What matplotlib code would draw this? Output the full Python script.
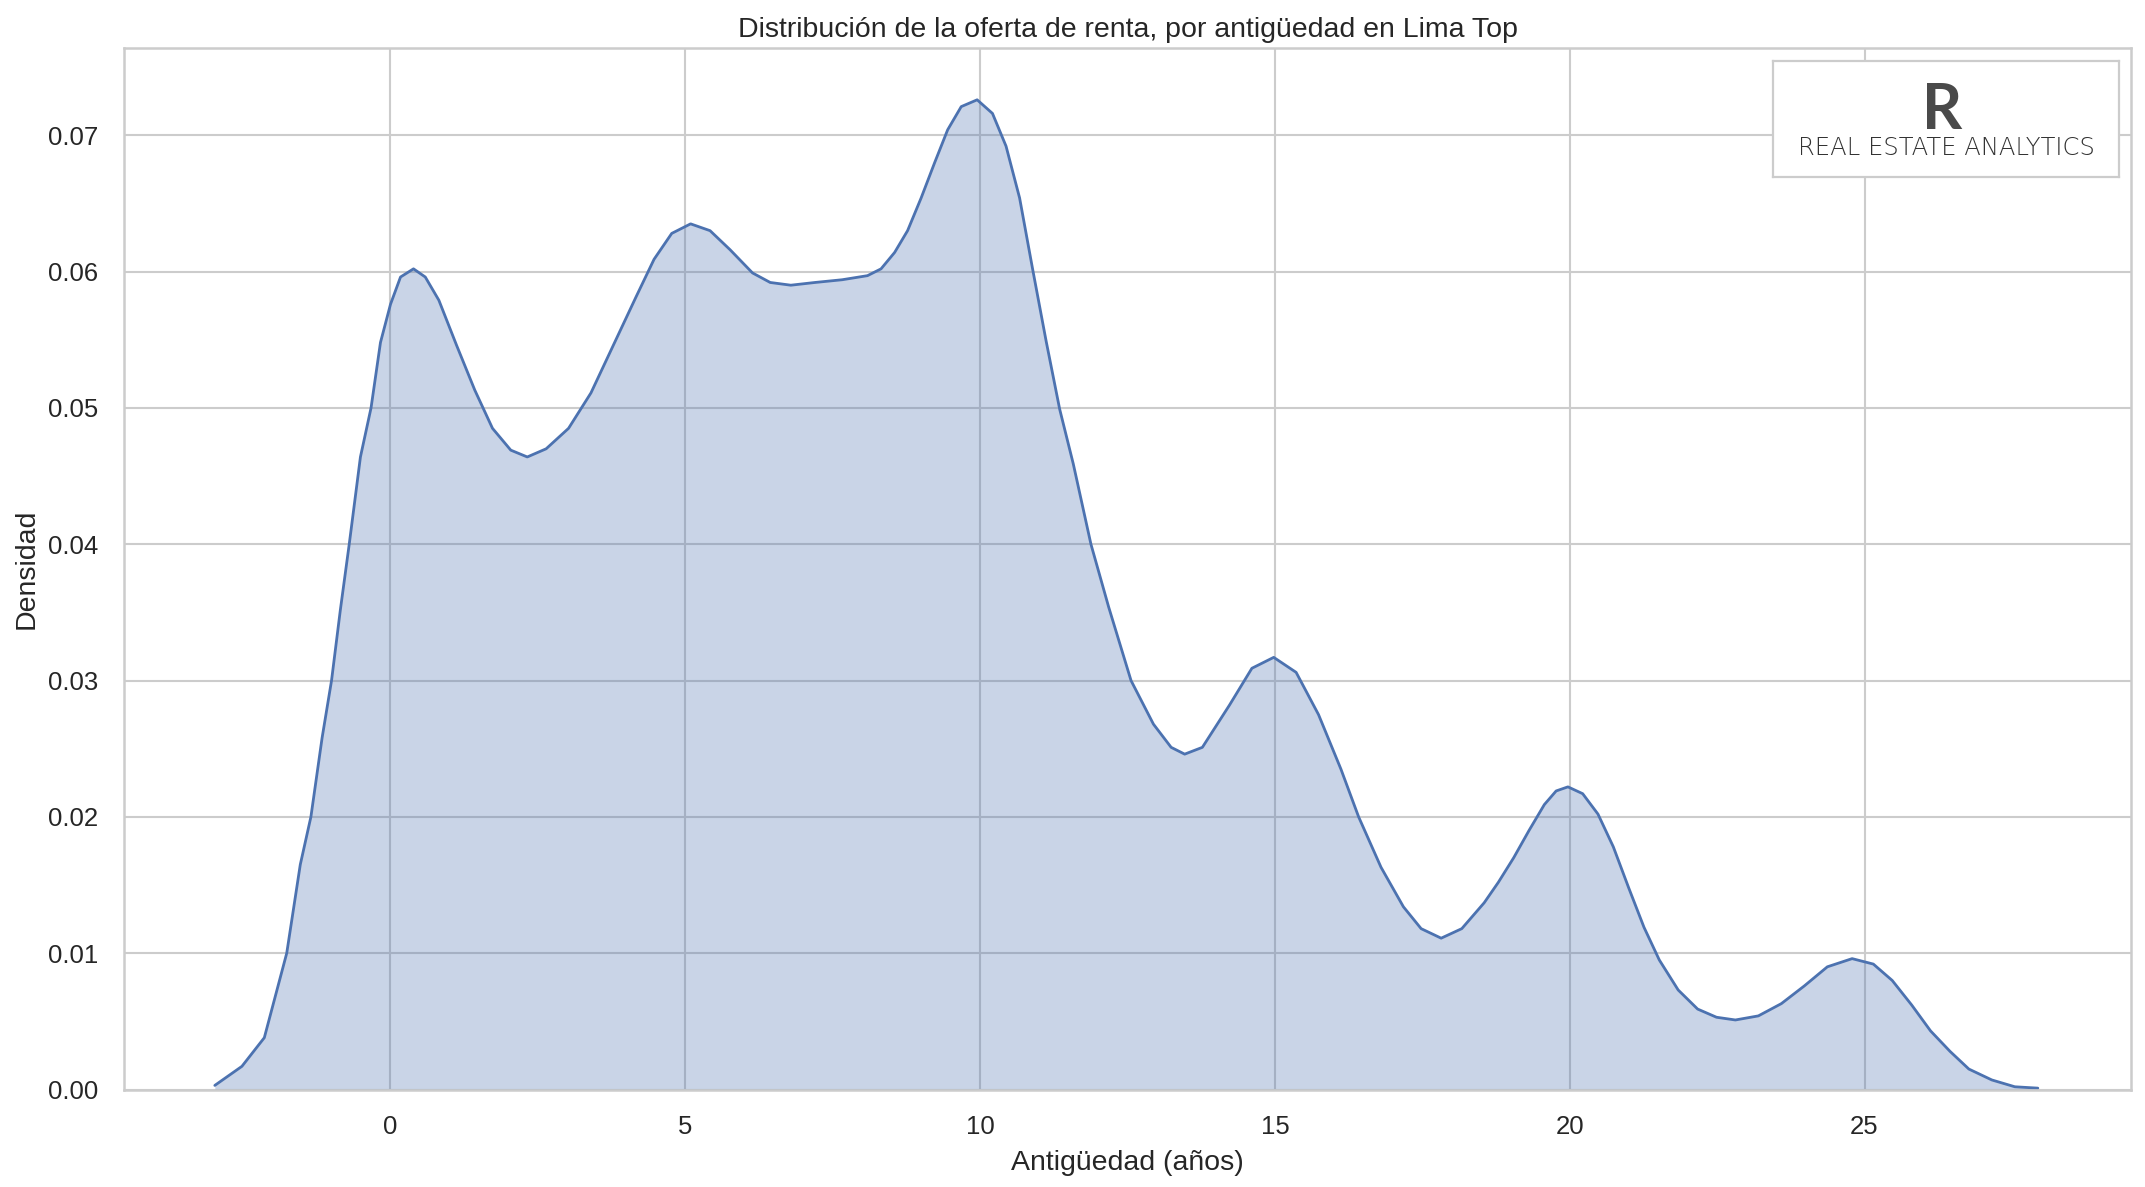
import matplotlib
matplotlib.use("Agg")
import matplotlib.pyplot as plt
import seaborn as sns

# Density curve (x = antigüedad en años, y = densidad)
antiguedad = [-2.98, -2.52, -2.14, -1.76, -1.53, -1.35, -1.16, -1.00, -0.85, -0.70,
              -0.51, -0.33, -0.17, 0.00, 0.17, 0.39, 0.59, 0.82, 1.12, 1.43,
              1.73, 2.04, 2.32, 2.64, 3.02, 3.40, 3.78, 4.16, 4.47, 4.77,
              5.09, 5.42, 5.76, 6.14, 6.44, 6.79, 7.20, 7.66,
              8.09, 8.32, 8.55, 8.77, 9.00, 9.23, 9.45, 9.68, 9.95, 10.21,
              10.44, 10.67, 10.89, 11.12, 11.35, 11.58, 11.88, 12.18, 12.56, 12.94,
              13.24, 13.47, 13.77, 14.23, 14.61, 14.98, 15.36, 15.74, 16.12, 16.42,
              16.80, 17.18, 17.48, 17.82, 18.17, 18.55,
              18.79, 19.05, 19.31, 19.57, 19.77, 19.97, 20.22, 20.48, 20.74, 21.00,
              21.26, 21.52, 21.84, 22.17, 22.49, 22.81, 23.20, 23.59, 23.98, 24.37,
              24.79, 25.15, 25.47, 25.80, 26.12, 26.45, 26.77, 27.16, 27.55, 27.94]
densidad = [0.0003, 0.0017, 0.0038, 0.0100, 0.0165, 0.0200, 0.0258, 0.0300, 0.0352, 0.0400,
            0.0464, 0.0500, 0.0548, 0.0576, 0.0596, 0.0602, 0.0596, 0.0579, 0.0546, 0.0513,
            0.0485, 0.0469, 0.0464, 0.0470, 0.0485, 0.0511, 0.0546, 0.0581, 0.0609, 0.0628,
            0.0635, 0.0630, 0.0616, 0.0599, 0.0592, 0.0590, 0.0592, 0.0594,
            0.0597, 0.0602, 0.0614, 0.0630, 0.0654, 0.0680, 0.0704, 0.0721, 0.0726, 0.0716,
            0.0692, 0.0654, 0.0602, 0.0549, 0.0499, 0.0459, 0.0400, 0.0354, 0.0300, 0.0268,
            0.0251, 0.0246, 0.0251, 0.0282, 0.0309, 0.0317, 0.0306, 0.0275, 0.0235, 0.0200,
            0.0163, 0.0134, 0.0118, 0.0111, 0.0118, 0.0137,
            0.0152, 0.0170, 0.0190, 0.0209, 0.0219, 0.0222, 0.0217, 0.0202, 0.0178, 0.0148,
            0.0119, 0.0095, 0.0073, 0.0059, 0.0053, 0.0051, 0.0054, 0.0063, 0.0076, 0.0090,
            0.0096, 0.0092, 0.0080, 0.0062, 0.0043, 0.0028, 0.0015, 0.0007, 0.0002, 0.0001]

x_ticks = [0, 5, 10, 15, 20, 25]
y_ticks = [0.00, 0.01, 0.02, 0.03, 0.04, 0.05, 0.06, 0.07]

title = "Distribución de la oferta de renta, por antigüedad en Lima Top"
xlabel = "Antigüedad (años)"
ylabel = "Densidad"
logo_mark = "R"
logo_text = "REAL ESTATE ANALYTICS"

sns.set_theme(style="whitegrid")
plt.rcParams["font.family"] = ["Liberation Sans", "DejaVu Sans"]

W, H = 2145, 1187
fig = plt.figure(figsize=(W / 100, H / 100), dpi=100)
ax = fig.add_axes([124 / W, 1 - 1089.5 / H, (2131 - 124) / W, (1089.5 - 48) / H])

blue = "#4C72B0"
ax.fill_between(antiguedad, 0, densidad, color=blue, alpha=0.3, linewidth=0)
ax.plot(antiguedad, densidad, color=blue, linewidth=2.0,
        solid_joinstyle="round", solid_capstyle="round")

ax.set_xlim(-4.52, 29.52)
ax.set_ylim(0, 0.0764)
ax.set_xticks(x_ticks)
ax.set_yticks(y_ticks)
ax.set_yticklabels([f"{v:.2f}" for v in y_ticks])

ax.grid(True, color="#cccccc", linewidth=1.5)
ax.set_axisbelow(True)
for s in ax.spines.values():
    s.set_color("#cccccc")
    s.set_linewidth(1.8)

ax.tick_params(axis="both", length=0, pad=18.5, labelsize=18.5, labelcolor="#262626")
ax.set_title(title, fontsize=20.5, color="#262626", pad=8)
ax.set_xlabel(xlabel, fontsize=20.5, color="#262626", labelpad=8)
ax.set_ylabel(ylabel, fontsize=20.5, color="#262626", labelpad=6)

# Logo box
lax = fig.add_axes([1773 / W, 1 - 177 / H, 346 / W, 116 / H], zorder=5)
lax.set_facecolor("white")
lax.set_xticks([])
lax.set_yticks([])
lax.grid(False)
for s in lax.spines.values():
    s.set_color("#cccccc")
    s.set_linewidth(1.6)
lax.set_xlim(0, 1)
lax.set_ylim(0, 1)
lax.text(0.49, 0.414, logo_mark, ha="center", va="baseline", fontsize=45,
         fontweight="bold", color="#4a4a4a", family=["Lato", "DejaVu Sans"])
lax.text(0.5, 0.19, logo_text, ha="center", va="baseline", fontsize=17.5,
         fontweight="light", color="#333333", family=["DejaVu Sans"])

fig.savefig("out.png", dpi=100)
